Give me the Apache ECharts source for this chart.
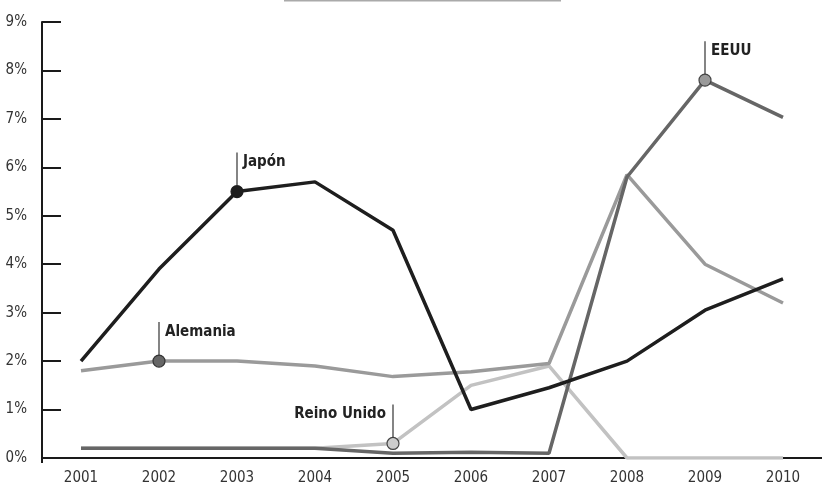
<!DOCTYPE html>
<html><head><meta charset="utf-8">
<script src="https://cdn.jsdelivr.net/npm/echarts@6/dist/echarts.min.js"></script>
<style>html,body{margin:0;padding:0;background:#fff}#c{width:822px;height:486px}</style>
</head><body><div id="c"></div>
<script>
const years = ['2001','2002','2003','2004','2005','2006','2007','2008','2009','2010'];
const yTicks = [0,1,2,3,4,5,6,7,8,9];
const japon    = [2.0, 3.9, 5.5, 5.7, 4.7, 1.0, 1.45, 2.0, 3.05, 3.7];
const alemania = [1.8, 2.0, 2.0, 1.9, 1.68, 1.78, 1.95, 5.85, 4.0, 3.2];
const reinoUnido = [0.2, 0.2, 0.2, 0.2, 0.3, 1.5, 1.9, 0, 0, 0];
const eeuu     = [0.2, 0.2, 0.2, 0.2, 0.1, 0.12, 0.1, 5.8, 7.8, 7.03];
const names = ['Japón','Alemania','Reino Unido','EEUU'];

const FONT = '"DejaVu Sans Condensed","Liberation Sans Narrow",sans-serif';
const seriesDefs = [
  {name:'Reino Unido', data:reinoUnido, color:'#c2c2c2', mfill:'#cccccc', mborder:'#444', idx:4, side:'left'},
  {name:'Alemania', data:alemania, color:'#9a9a9a', mfill:'#666666', mborder:'#333', idx:1, side:'right'},
  {name:'EEUU', data:eeuu, color:'#666666', mfill:'#9a9a9a', mborder:'#444', idx:8, side:'right'},
  {name:'Japón', data:japon, color:'#1e1e1e', mfill:'#1e1e1e', mborder:'#1e1e1e', idx:2, side:'right'}
];

const chart = echarts.init(document.getElementById('c'));
const series = [];
seriesDefs.forEach(d => {
  series.push({type:'line', name:d.name, data:d.data, symbol:'none', lineStyle:{color:d.color, width:3.5}, z:2});
});
seriesDefs.forEach(d => {
  const pt = years.map((y,i)=> i===d.idx ? d.data[i] : '-');
  series.push({type:'scatter', data:pt, symbol:'circle', symbolSize:12,
    itemStyle:{color:d.mfill, borderColor:d.mborder, borderWidth:1.2, opacity:1}, z:5});
});

chart.setOption({
  animation:false,
  grid:{left:42, right:-5, top:22, bottom:28},
  xAxis:{type:'category', data:years, boundaryGap:true,
    axisLine:{lineStyle:{color:'#1a1a1a', width:2}},
    axisTick:{inside:true, length:14, lineStyle:{color:'#1a1a1a', width:2}},
    axisLabel:{color:'#333', fontFamily:FONT, fontSize:15, margin:13},
    splitLine:{show:false}},
  yAxis:{type:'value', min:0, max:9, interval:1,
    axisLine:{show:true, lineStyle:{color:'#1a1a1a', width:2}},
    axisTick:{show:true, inside:true, length:19, lineStyle:{color:'#1a1a1a', width:2}},
    axisLabel:{color:'#333', fontFamily:FONT, fontSize:15, margin:15, formatter: v => yTicks.includes(v) ? v+'%' : ''},
    splitLine:{show:false}},
  series
});

function addGraphics(){
  const g = [];
  g.push({type:'line', shape:{x1:284, y1:0.5, x2:561, y2:0.5}, style:{stroke:'#aaaaaa', lineWidth:2}});
  seriesDefs.forEach(d => {
    const p = chart.convertToPixel({xAxisIndex:0, yAxisIndex:0}, [d.idx, d.data[d.idx]]);
    g.push({type:'line', shape:{x1:p[0], y1:p[1]-6, x2:p[0], y2:p[1]-39}, style:{stroke:'#333', lineWidth:1.2}, z:10});
    g.push({type:'text', x: d.side==='right' ? p[0]+6 : p[0]-7, y: p[1]-29,
      style:{text:d.name, fill:'#222', font:'bold 15px '+FONT, textAlign: d.side==='right'?'left':'right', textVerticalAlign:'middle'}, z:10});
  });
  const grid = chart.getModel().getComponent('grid').coordinateSystem.getRect();
  g.push({type:'line', shape:{x1:grid.x, y1:grid.y+grid.height, x2:grid.x, y2:grid.y+grid.height+5}, style:{stroke:'#1a1a1a', lineWidth:2}});
  chart.setOption({graphic:g});
}
addGraphics();
</script>
</body></html>
